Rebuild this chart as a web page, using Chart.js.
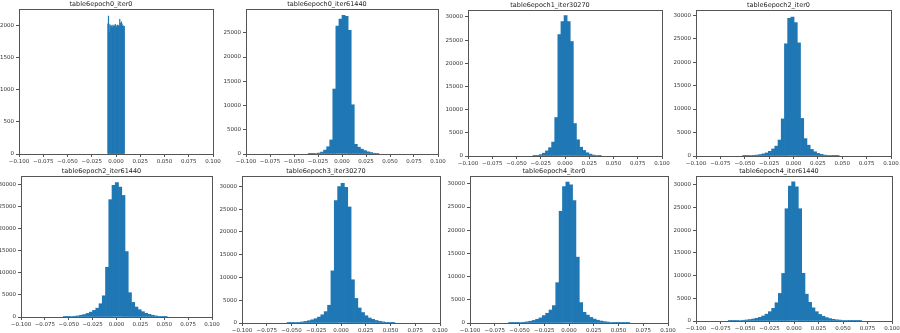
<!DOCTYPE html>
<html>
<head>
<meta charset="utf-8">
<script src="https://cdn.jsdelivr.net/npm/chart.js@4.4.0/dist/chart.umd.min.js"></script>
<style>
  body { margin: 0; background: #fff; }
  #wrap { position: relative; width: 900px; height: 333px; overflow: hidden; background: #fff; }
  #wrap canvas { position: absolute; }
</style>
</head>
<body>
<div id="wrap"></div>
<script>
// panel titles, in reading order
const titles = [
    "table6epoch0_iter0", "table6epoch0_iter61440", "table6epoch1_iter30270", "table6epoch2_iter0",
    "table6epoch2_iter61440", "table6epoch3_iter30270", "table6epoch4_iter0", "table6epoch4_iter61440"
];

// x tick labels shared by every panel
const xTicks = [-0.1, -0.075, -0.05, -0.025, 0, 0.025, 0.05, 0.075, 0.1];

// left edge of the first bin and bin width for each histogram
const binStart = [-0.0086, -0.0352, -0.033, -0.0522, -0.0557, -0.0544, -0.061, -0.067];
const binWidth = [0.00058, 0.0032, 0.0032, 0.0033, 0.0034, 0.0034, 0.0034, 0.0034];

// top of the y axis and y tick step
const yMax = [2260, 29900, 31500, 31100, 31900, 32300, 31700, 31900];
const yStep = [500, 5000, 5000, 5000, 5000, 5000, 5000, 5000];

// bin counts
const e0i0 = [2030, 2150, 2020, 1900, 1990, 2010, 1980, 2000, 1970, 2010, 1990, 1980, 2000, 2020, 1990,
    1970, 2000, 2010, 1985, 2000, 1990, 2100, 2040, 2010, 2060, 2030, 1990, 2000, 1980, 1990];
const e0i61440 = [40, 60, 100, 200, 400, 800, 1500, 2900, 13400, 26400, 27800, 28600, 28400, 25500,
    10150, 2000, 1400, 1000, 700, 450, 300, 150, 80];
const e1i30270 = [60, 150, 300, 600, 1100, 1800, 3000, 8300, 26200, 29000, 30300, 29000, 24700, 7000,
    3500, 1900, 1200, 700, 400, 200, 100, 50];
const e2i0 = [60, 80, 100, 150, 200, 300, 450, 650, 1000, 1500, 2100, 3400, 7900, 23900, 29300, 29600,
    28400, 24100, 8000, 3700, 2300, 1400, 900, 550, 350, 200, 130, 80, 50, 30];
const e2i61440 = [30, 60, 100, 170, 250, 400, 550, 800, 1100, 1500, 2000, 3000, 4800, 11250, 26550, 29800,
    30400, 29400, 27500, 14800, 5500, 3300, 2250, 1650, 1200, 850, 600, 400, 250, 150, 80, 40];
const e3i30270 = [25, 50, 90, 150, 230, 350, 500, 700, 950, 1300, 1800, 2500, 3900, 11450, 26900, 30000,
    30700, 29800, 25500, 9500, 5400, 3300, 2300, 1600, 1100, 800, 550, 380, 250, 150, 80, 40];
const e4i0 = [20, 35, 60, 100, 160, 250, 380, 550, 800, 1100, 1600, 2100, 2800, 3750, 8700, 24100, 29400,
    30400, 29800, 26400, 14200, 4400, 2300, 1700, 1200, 850, 600, 420, 300, 200, 120, 70, 40, 20, 10, 5];
const e4i61440 = [30, 50, 75, 110, 160, 230, 320, 440, 600, 800, 1100, 1500, 2050, 2780, 4020, 6070, 10460,
    24700, 29700, 30600, 29500, 24700, 10500, 5900, 4100, 2900, 2050, 1450, 1050, 750, 530, 380, 270, 190,
    130, 90, 60, 40, 25, 15];
const counts = [e0i0, e0i61440, e1i30270, e2i0, e2i61440, e3i30270, e4i0, e4i61440];

// plot-area boxes on the page: left, right, top, bottom
const boxes = [
    [19, 213, 9, 154], [246, 438, 9, 154], [468, 662, 10, 156], [696, 891, 10, 156],
    [21, 212, 176, 317], [242, 440, 176, 323], [470, 668, 176, 323], [696, 892, 176, 321]
];

const BLUE = "#1f77b4";
const FONT = "DejaVu Sans";
const YW = 30;   // y axis width
const XH = 12;   // x axis height
const TH = 9;    // title height
const PR = 12;   // right padding

// draws the four spines round the plot area
const spines = {
    id: "spines",
    afterDatasetsDraw(chart) {
        const a = chart.chartArea;
        const ctx = chart.ctx;
        ctx.save();
        ctx.strokeStyle = "#555";
        ctx.lineWidth = 1;
        ctx.strokeRect(Math.round(a.left) + 0.5, Math.round(a.top) + 0.5,
            Math.round(a.right - a.left), Math.round(a.bottom - a.top));
        ctx.restore();
    }
};

const fmtX = v => (v < 0 ? "\u2212" : "") + Math.abs(v).toFixed(3);

const wrap = document.getElementById("wrap");

titles.forEach((title, i) => {
    const [L, R, T, B] = boxes[i];
    const canvas = document.createElement("canvas");
    canvas.width = YW + (R - L) + PR;
    canvas.height = TH + (B - T) + XH;
    canvas.style.left = (L - YW) + "px";
    canvas.style.top = (T - TH) + "px";
    wrap.appendChild(canvas);

    const points = counts[i].map((c, k) => ({ x: binStart[i] + (k + 0.5) * binWidth[i], y: c }));
    const step = yStep[i];
    const top = yMax[i];

    new Chart(canvas, {
        type: "bar",
        data: {
            datasets: [{
                data: points,
                backgroundColor: BLUE,
                borderWidth: 0,
                barPercentage: 1,
                categoryPercentage: 1
            }]
        },
        options: {
            responsive: false,
            animation: false,
            devicePixelRatio: 1,
            layout: { padding: { left: 0, right: PR, top: 0, bottom: 0 } },
            plugins: {
                legend: { display: false },
                tooltip: { enabled: false },
                title: {
                    display: true,
                    text: title,
                    color: "#222",
                    font: { family: FONT, size: 6.5, weight: "normal", lineHeight: 1.2 },
                    padding: { top: 0, bottom: 1.2 }
                }
            },
            scales: {
                x: {
                    type: "linear",
                    min: -0.1,
                    max: 0.1,
                    offset: false,
                    afterBuildTicks: s => { s.ticks = xTicks.map(v => ({ value: v })); },
                    afterFit: s => { s.height = XH; },
                    grid: { offset: false, drawOnChartArea: false, drawTicks: true, tickLength: 3, color: "#555" },
                    border: { display: false },
                    ticks: {
                        autoSkip: false,
                        maxRotation: 0,
                        padding: 1,
                        color: "#333",
                        font: { family: FONT, size: 5.5 },
                        callback: v => fmtX(v)
                    }
                },
                y: {
                    min: 0,
                    max: top,
                    afterBuildTicks: s => {
                        const list = [];
                        for (let v = 0; v <= top; v += step) list.push({ value: v });
                        s.ticks = list;
                    },
                    afterFit: s => { s.width = YW; },
                    grid: { drawOnChartArea: false, drawTicks: true, tickLength: 3, color: "#555" },
                    border: { display: false },
                    ticks: {
                        autoSkip: false,
                        padding: 2,
                        color: "#333",
                        font: { family: FONT, size: 5.5 },
                        callback: v => String(v)
                    }
                }
            }
        },
        plugins: [spines]
    });
});
</script>
</body>
</html>
